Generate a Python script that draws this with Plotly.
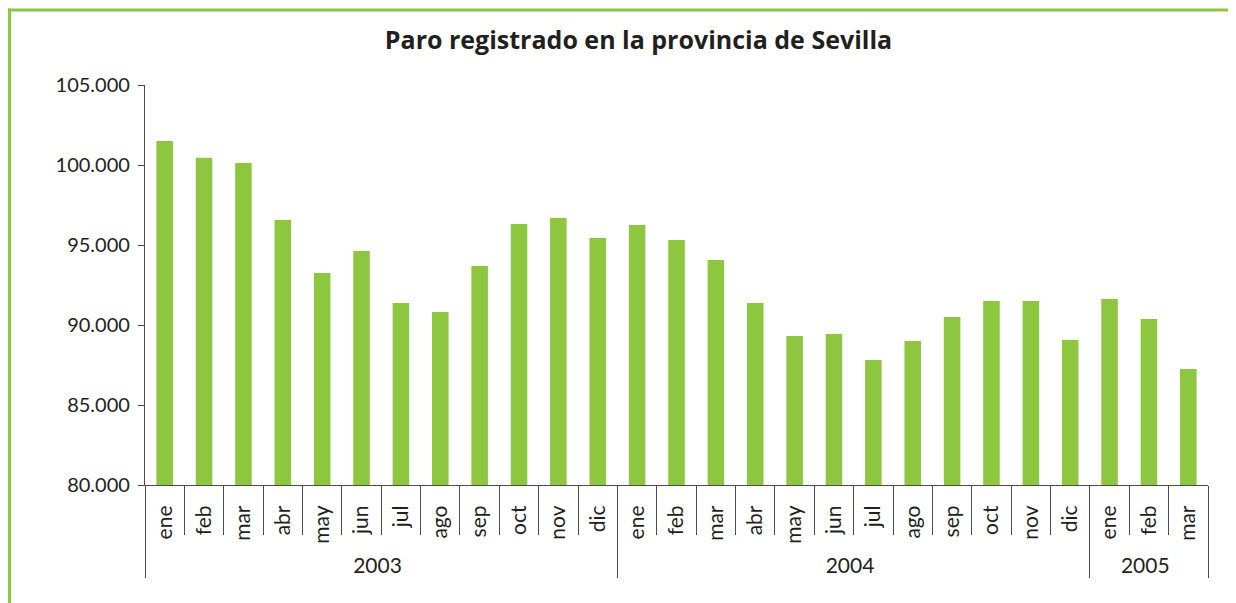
import plotly.graph_objects as go

years = ["2003"] * 12 + ["2004"] * 12 + ["2005"] * 3
months = ["ene", "feb", "mar", "abr", "may", "jun", "jul", "ago", "sep", "oct", "nov", "dic",
          "ene", "feb", "mar", "abr", "may", "jun", "jul", "ago", "sep", "oct", "nov", "dic",
          "ene", "feb", "mar"]
paro = [101500, 100450, 100130, 96560, 93250, 94630, 91380, 90810, 93690, 96310, 96690, 95440,
        96250, 95310, 94060, 91380, 89310, 89440, 87810, 89000, 90500, 91500, 91500, 89060,
        91630, 90380, 87250]

green = "#8dc63f"
dark = "#231f20"
axis_col = "#4d4d4d"
font_fam = "Lato, 'Open Sans', sans-serif"

fig = go.Figure(go.Bar(x=[years, months], y=paro, marker=dict(color=green, line=dict(width=0)),
                       width=0.42))

OFF = 8  # default page margin of the html body
W, H = 1236 - OFF, 603 - OFF
L, T = 145 - OFF, 85 - OFF
R = W - (1208 - OFF)
B = H - (485 - OFF)
pw, ph = W - L - R, H - T - B

def px_x(px):
    return (px - OFF - L) / pw

def px_y(py):
    return (H - B - (py - OFF)) / ph

fig.update_layout(
    width=W, height=H,
    margin=dict(l=L, r=R, t=T, b=B, autoexpand=False),
    paper_bgcolor="white", plot_bgcolor="white",
    separators=",.",
    showlegend=False,
    font=dict(family=font_fam, color=dark),
    title=dict(text="<b>Paro registrado en la provincia de Sevilla</b>", x=px_x(638.5), xref="paper",
               xanchor="center", y=1 - (40 - OFF) / H, yanchor="middle", yref="container",
               font=dict(size=25, color=dark, family="'Open Sans', sans-serif")),
    xaxis=dict(type="multicategory", showline=True, linecolor=axis_col, linewidth=1.2,
               ticks="outside", tickson="boundaries", ticklen=49, tickcolor=axis_col, tickwidth=1.2,
               tickangle=-90, tickfont=dict(size=21, color=dark), ticklabelstandoff=11,
               showdividers=True, dividercolor=axis_col, dividerwidth=1.2,
               showgrid=False),
    yaxis=dict(range=[80000, 105000], tickvals=[80000, 85000, 90000, 95000, 100000, 105000],
               tickformat=",d", showline=True, linecolor=axis_col, linewidth=1.2,
               ticks="outside", ticklen=6, tickcolor=axis_col, tickwidth=1.2,
               tickfont=dict(size=20, color=dark), ticklabelstandoff=4,
               showgrid=False, zeroline=False),
    shapes=[
        dict(type="line", xref="paper", yref="paper", x0=px_x(9.5), x1=px_x(9.5),
             y0=px_y(8.5), y1=px_y(640), line=dict(color=green, width=3)),
        dict(type="line", xref="paper", yref="paper", x0=px_x(8), x1=px_x(1270),
             y0=px_y(10), y1=px_y(10), line=dict(color=green, width=3)),
    ],
)

fig.write_html("out.html")
